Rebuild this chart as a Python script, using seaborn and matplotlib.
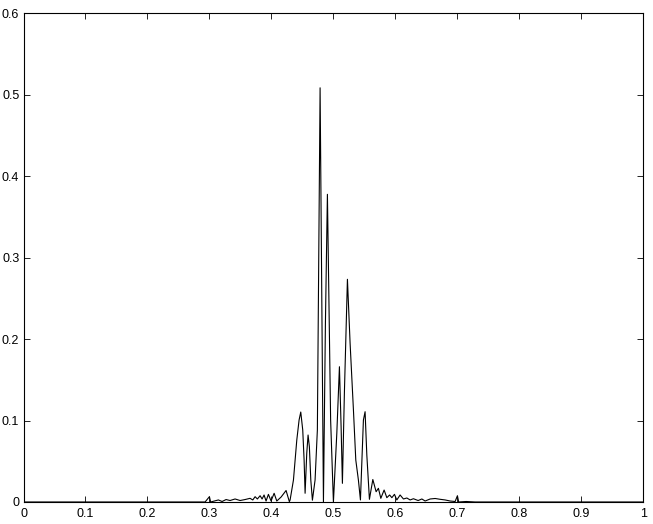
import numpy as np
import pandas as pd
import matplotlib
matplotlib.use("Agg")
import matplotlib.pyplot as plt
import seaborn as sns

# points (abscisse normalisée, amplitude)
freq = [0.0, 0.2526, 0.293, 0.300, 0.302, 0.3145, 0.3204, 0.3269, 0.3333,
        0.3414, 0.3495, 0.3575, 0.3656, 0.370, 0.3737, 0.3774, 0.3818,
        0.385, 0.3882, 0.3914, 0.3952, 0.3995, 0.4044, 0.4087, 0.4157,
        0.4237, 0.429, 0.4302, 0.4356, 0.441, 0.4447, 0.4474, 0.4506,
        0.4528, 0.4544, 0.4571, 0.4592, 0.4613, 0.4636, 0.4662, 0.4705,
        0.4742, 0.4786, 0.484, 0.4872, 0.4904, 0.4956, 0.5001,
        0.5056, 0.5098, 0.5125, 0.5146, 0.5178, 0.5227, 0.5270, 0.5324,
        0.5362, 0.5404, 0.5437, 0.5485, 0.5512, 0.5540,
        0.5582, 0.5637, 0.569, 0.5727, 0.5766, 0.5819, 0.5863,
        0.5908, 0.5944, 0.5986, 0.6024, 0.6077, 0.6131, 0.6186, 0.6239,
        0.6292, 0.6368, 0.6428, 0.6481, 0.6562, 0.6643, 0.6723, 0.6804,
        0.6885, 0.6965, 0.7002, 0.7022, 0.7143, 0.7288, 1.0]
amp = [0.0, 0.0, 0.0, 0.0065, 0.0, 0.0025, 0.0006, 0.003, 0.0018,
       0.0037, 0.0018, 0.003, 0.0045, 0.0025, 0.0065, 0.0037, 0.0077,
       0.0037, 0.0086, 0.0012, 0.0094, 0.0012, 0.0107, 0.0012, 0.0061,
       0.0141, 0.0004, 0.0025, 0.0270, 0.0761, 0.1006, 0.1104, 0.0883,
       0.0515, 0.0107, 0.0601, 0.0822, 0.0678, 0.0270, 0.0022, 0.0270,
       0.0883, 0.5083, 0.0, 0.2200, 0.3776, 0.1006, 0.0,
       0.0847, 0.1660, 0.0924, 0.0229, 0.1337, 0.2733, 0.1951, 0.1129,
       0.0515, 0.0270, 0.0025, 0.1006, 0.1108, 0.0577,
       0.0033, 0.0276, 0.0126, 0.0168, 0.0045, 0.0147, 0.0053,
       0.0086, 0.0053, 0.0094, 0.0025, 0.0086, 0.0037, 0.0049, 0.0025,
       0.004, 0.0018, 0.0037, 0.0012, 0.0037, 0.0043, 0.0033, 0.0025,
       0.0012, 0.0006, 0.0077, 0.0, 0.0006, 0.0, 0.0]

xticks = [0, 0.1, 0.2, 0.3, 0.4, 0.5, 0.6, 0.7, 0.8, 0.9, 1]
xlabels = ['0', '0.1', '0.2', '0.3', '0.4', '0.5', '0.6', '0.7', '0.8', '0.9', '1']
yticks = [0, 0.1, 0.2, 0.3, 0.4, 0.5, 0.6]
ylabels = ['0', '0.1', '0.2', '0.3', '0.4', '0.5', '0.6']

sns.set_style("white")
plt.rcParams['font.family'] = ['Liberation Sans', 'DejaVu Sans']

df = pd.DataFrame({'freq': freq, 'amp': amp})

fig = plt.figure(figsize=(6.53, 5.24), dpi=100)
ax = fig.add_axes([0.036, 0.042, 0.949, 0.933])

sns.lineplot(data=df, x='freq', y='amp', ax=ax, color='black',
             linewidth=0.8, estimator=None, sort=False)

ax.set_xlim(0, 1)
ax.set_ylim(0, 0.6)
ax.set_xticks(xticks)
ax.set_xticklabels(xlabels)
ax.set_yticks(yticks)
ax.set_yticklabels(ylabels)
ax.set_xlabel('')
ax.set_ylabel('')

for s in ax.spines.values():
    s.set_color('black')
    s.set_linewidth(0.8)
    s.set_visible(True)

ax.tick_params(direction='in', length=4, width=0.6, colors='black',
               labelsize=9, top=True, right=True, bottom=True, left=True)
ax.tick_params(axis='x', pad=4)
ax.tick_params(axis='y', pad=3)

fig.savefig('out.png', dpi=100)
